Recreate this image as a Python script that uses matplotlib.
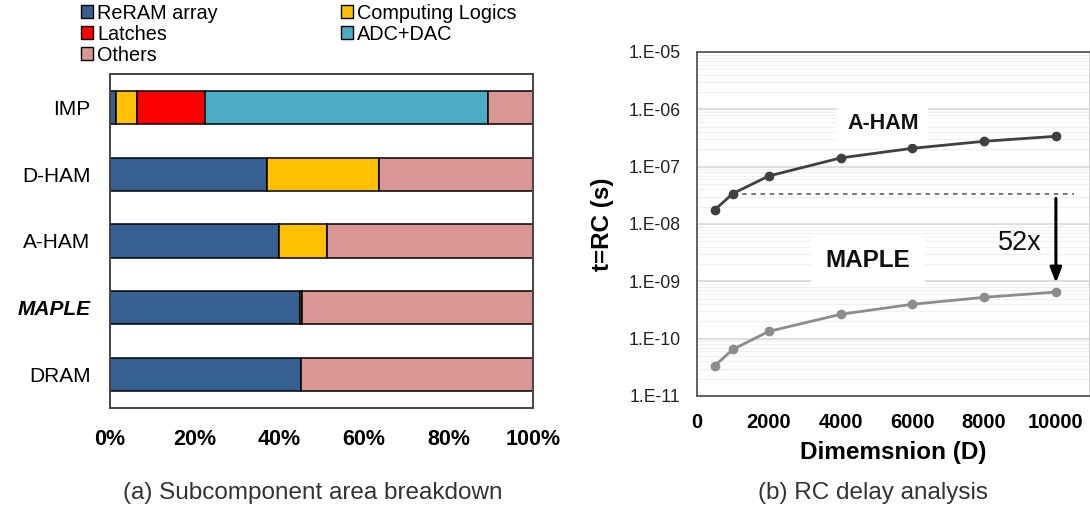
import numpy as np
import matplotlib
matplotlib.use("Agg")
import matplotlib.pyplot as plt
from matplotlib.patches import Patch
from matplotlib.ticker import FixedLocator, LogLocator, NullFormatter

plt.rcParams['font.family'] = ['Liberation Sans', 'DejaVu Sans']

# ---- (a) area breakdown data (percent of total area) ----
designs = ["IMP", "D-HAM", "A-HAM", "MAPLE", "DRAM"]
components = ["ReRAM array", "Computing Logics", "Latches", "ADC+DAC", "Others"]
reram = [1.4, 37.0, 40.0, 44.9, 45.2]
computing = [5.1, 26.6, 11.2, 0.5, 0.0]
latches = [15.9, 0.0, 0.0, 0.0, 0.0]
adc_dac = [67.0, 0.0, 0.0, 0.0, 0.0]
others = [10.6, 36.4, 48.8, 54.6, 54.8]
colors = ["#376092", "#FFC000", "#FF0000", "#4BACC6", "#DA9694"]
pct_ticks = [0, 20, 40, 60, 80, 100]

# ---- (b) RC delay data ----
dims = [500, 1000, 2000, 4000, 6000, 8000, 10000]
aham_delay = [1.78e-8, 3.4e-8, 6.87e-8, 1.42e-7, 2.09e-7, 2.77e-7, 3.39e-7]
maple_delay = [3.4e-11, 6.5e-11, 1.34e-10, 2.66e-10, 3.98e-10, 5.26e-10, 6.5e-10]
dim_ticks = [0, 2000, 4000, 6000, 8000, 10000]
delay_ticks = [1e-11, 1e-10, 1e-9, 1e-8, 1e-7, 1e-6, 1e-5]
delay_ticklabels = ["1.E-11", "1.E-10", "1.E-09", "1.E-08", "1.E-07", "1.E-06", "1.E-05"]
# A-HAM at D=1000 versus MAPLE at D=10000
speedup = aham_delay[1] / maple_delay[-1]

W, H = 1090, 512
fig = plt.figure(figsize=(W / 100, H / 100), dpi=100)


def rect(l, t, r, b):
    return [l / W, 1 - b / H, (r - l) / W, (b - t) / H]


# ================= (a) =================
ax1 = fig.add_axes(rect(110, 74, 533, 408))
series = [reram, computing, latches, adc_dac, others]
ypos = np.arange(len(designs))
left = np.zeros(len(designs))
for vals, col, name in zip(series, colors, components):
    vals = np.array(vals, dtype=float)
    ax1.barh(ypos, vals, left=left, height=0.5, color=col,
             edgecolor="black", linewidth=1.1, label=name)
    left += vals
ax1.set_xlim(0, 100)
ax1.set_ylim(len(designs) - 0.5, -0.5)
ax1.set_yticks(ypos)
ax1.set_yticklabels(designs, fontsize=15)
for lbl in ax1.get_yticklabels():
    if lbl.get_text() == "MAPLE":
        lbl.set_fontweight("bold")
        lbl.set_fontstyle("italic")
ax1.set_xticks(pct_ticks)
ax1.set_xticklabels([f"{v}%" for v in pct_ticks], fontsize=15.5, fontweight="bold")
ax1.tick_params(axis="both", length=0)
ax1.tick_params(axis="x", pad=15)
ax1.tick_params(axis="y", pad=14)
for sp in ax1.spines.values():
    sp.set_color("#444444")
    sp.set_linewidth(1.4)

# legend, column-major order
order = [0, 2, 4, 1, 3]
handles = [Patch(facecolor=colors[i], edgecolor="black", linewidth=1.0,
                 label=components[i]) for i in order]
fig.legend(handles=handles, ncol=2, loc="upper left",
           bbox_to_anchor=(67 / W, 1 + 10 / H), frameon=False,
           fontsize=14.3, handlelength=0.62, handleheight=0.62,
           handletextpad=0.2, labelspacing=0.1, columnspacing=6.2,
           borderpad=0.2)

fig.text(313 / W, 1 - 493 / H, "(a) Subcomponent area breakdown",
         ha="center", va="center", fontsize=17.5, color="#333333")

# ================= (b) =================
ax2 = fig.add_axes(rect(697, 52, 1090, 396))
ax2.set_yscale("log")
ax2.set_xlim(0, 10950)
ax2.set_ylim(1e-11, 1e-5)
ax2.yaxis.set_major_locator(FixedLocator(delay_ticks))
ax2.set_yticklabels(delay_ticklabels, fontsize=12.7, color="#222222")
ax2.yaxis.set_minor_locator(LogLocator(base=10, subs=np.arange(2, 10)))
ax2.yaxis.set_minor_formatter(NullFormatter())
ax2.set_xticks(dim_ticks)
ax2.set_xticklabels([str(v) for v in dim_ticks], fontsize=14.5, fontweight="bold")
ax2.grid(True, which="major", axis="y", color="#d4d4d4", linewidth=1.1)
ax2.grid(True, which="minor", axis="y", color="#f0f0f0", linewidth=0.9)
ax2.set_axisbelow(True)
ax2.tick_params(axis="both", which="both", length=0)
ax2.tick_params(axis="x", pad=12)
ax2.tick_params(axis="y", pad=12)
for name, sp in ax2.spines.items():
    sp.set_color("#555555")
    sp.set_linewidth(1.3)
ax2.spines["right"].set_color("#cccccc")

ax2.plot(dims, aham_delay, color="#404040", linewidth=2.0, marker="o",
         markersize=6, zorder=4)
ax2.plot(dims, maple_delay, color="#8c8c8c", linewidth=2.0, marker="o",
         markersize=6, zorder=4)

# reference level of A-HAM at D=1000 and the speedup arrow
ax2.plot([dims[1], 10500], [aham_delay[1], aham_delay[1]], color="#555555",
         linestyle=(0, (3, 3)), linewidth=1.1, zorder=3)
ax2.annotate("", xy=(dims[-1], maple_delay[-1] * 1.45),
             xytext=(dims[-1], aham_delay[1] * 0.82),
             arrowprops=dict(arrowstyle="-|>,head_width=0.35,head_length=0.9",
                             color="black", linewidth=2.2, shrinkA=0, shrinkB=0),
             zorder=5)
ax2.text(dims[-1] - 1000, 10 ** -8.33, f"{speedup:.0f}x", ha="center",
         va="center", fontsize=19.5, color="#111111")

ax2.text(5180, 10 ** -6.245, "A-HAM", ha="center", va="center", fontsize=15.5,
         fontweight="bold", color="#111111", zorder=6,
         bbox=dict(boxstyle="square,pad=0.45", facecolor="white", edgecolor="none"))
ax2.text(4770, 10 ** -8.63, "MAPLE", ha="center", va="center", fontsize=17.5,
         fontweight="bold", color="#111111", zorder=6,
         bbox=dict(boxstyle="square,pad=0.6", facecolor="white", edgecolor="none"))

ax2.set_ylabel("t=RC (s)", fontsize=17.5, fontweight="bold", labelpad=10)
ax2.set_xlabel("Dimemsnion (D)", fontsize=17.5, fontweight="bold", labelpad=7)

fig.text(873 / W, 1 - 493 / H, "(b) RC delay analysis",
         ha="center", va="center", fontsize=17.5, color="#333333")

fig.savefig("out.png", dpi=100, facecolor="white")
